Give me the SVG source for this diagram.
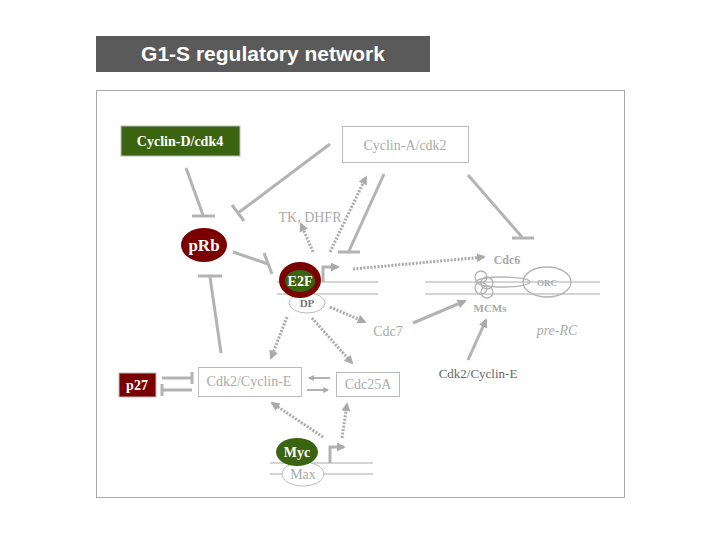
<svg xmlns="http://www.w3.org/2000/svg" width="720" height="540" viewBox="0 0 720 540">
<defs>
<style>
.s{stroke:#b3b3b3;stroke-width:3;fill:none}
.d{stroke:#aaa;stroke-width:3;fill:none;stroke-dasharray:2 1.5}
.t{stroke:#b3b3b3;stroke-width:1.3;fill:none}
.dna{stroke:#aaa;stroke-width:1}
.lbl{font-family:"Liberation Serif",serif;font-size:14px;fill:#aaa;text-anchor:middle}
.w{font-family:"Liberation Serif",serif;font-weight:bold;fill:#fff;text-anchor:middle}
</style>
<marker id="a" viewBox="0 0 10 10" refX="8" refY="5" markerWidth="3" markerHeight="3" orient="auto"><path d="M0,0L10,5L0,10z" fill="#aaa"/></marker>
</defs>
<rect width="720" height="540" fill="#fff"/>
<rect x="96" y="36" width="334" height="36" fill="#5a5a5a"/>
<text x="263" y="61" font-family="Liberation Sans,sans-serif" font-weight="bold" font-size="21" fill="#fff" text-anchor="middle">G1-S regulatory network</text>
<rect x="96.5" y="90.5" width="528" height="407" fill="none" stroke="#aaa" stroke-width="1"/>
<g id="dna">
<line class="dna" x1="277" y1="282" x2="378" y2="282"/><line class="dna" x1="277" y1="294" x2="378" y2="294"/>
<line class="dna" x1="425" y1="282" x2="600" y2="282"/><line class="dna" x1="425" y1="294" x2="600" y2="294"/>
<line class="dna" x1="270" y1="463" x2="373" y2="463"/><line class="dna" x1="270" y1="474" x2="373" y2="474"/>
</g>
<g id="connectors">
<line class="s" x1="330" y1="144" x2="238" y2="213"/><line class="s" x1="232" y1="205" x2="244" y2="221"/>
<line class="s" x1="186" y1="168" x2="203" y2="215"/><line class="s" x1="192" y1="216" x2="215" y2="216"/>
<line class="s" x1="233" y1="252" x2="268" y2="264"/><line class="s" x1="264" y1="253" x2="272" y2="274"/>
<line class="s" x1="221" y1="353" x2="210" y2="277"/><line class="s" x1="198" y1="276" x2="222" y2="276"/>
<line class="d" x1="313" y1="252" x2="301" y2="224" marker-end="url(#a)"/>
<line class="d" x1="330" y1="252" x2="366" y2="177" marker-end="url(#a)"/>
<line class="s" x1="384" y1="174" x2="349" y2="251"/><line class="s" x1="338" y1="252" x2="360" y2="252"/>
<line class="s" x1="468" y1="175" x2="522" y2="237"/><line class="s" x1="512" y1="238" x2="534" y2="238"/>
<path class="s" d="M323 282V267H338" marker-end="url(#a)"/>
<line class="d" x1="353" y1="269" x2="484" y2="257" marker-end="url(#a)"/>
<line class="d" x1="330" y1="307" x2="365" y2="322" marker-end="url(#a)"/>
<line class="s" x1="413" y1="323" x2="465" y2="301" marker-end="url(#a)"/>
<line class="s" x1="468" y1="360" x2="486" y2="320" marker-end="url(#a)"/>
<line class="d" x1="287" y1="317" x2="271" y2="358" marker-end="url(#a)"/>
<line class="d" x1="312" y1="318" x2="352" y2="363" marker-end="url(#a)"/>
<line class="s" x1="162" y1="378" x2="191" y2="378"/><line class="s" x1="192" y1="372" x2="192" y2="384"/>
<line class="s" x1="192" y1="390" x2="163" y2="390"/><line class="s" x1="162" y1="384" x2="162" y2="396"/>
<line class="s" x1="330" y1="378" x2="309" y2="378" marker-end="url(#a)" style="stroke-width:2"/>
<line class="s" x1="307" y1="390" x2="328" y2="390" marker-end="url(#a)" style="stroke-width:2"/>
<path class="s" d="M330 463V447H344" marker-end="url(#a)"/>
<line class="d" x1="323" y1="437" x2="272" y2="403" marker-end="url(#a)"/>
<line class="d" x1="342" y1="438" x2="347" y2="404" marker-end="url(#a)"/>
</g>
<g id="cycD"><rect x="121" y="126" width="119" height="30" fill="#3b6410" stroke="#bbb"/><text class="w" x="180" y="146" font-size="14">Cyclin-D/cdk4</text></g>
<g id="cycA"><rect x="342.5" y="126.5" width="126" height="36" fill="#fff" stroke="#bbb"/><text class="lbl" x="405" y="150">Cyclin-A/cdk2</text></g>
<g id="prb"><ellipse cx="204" cy="245" rx="23" ry="17" fill="#7a0000"/><text class="w" x="204" y="251" font-size="17">pRb</text></g>
<g id="tk"><text class="lbl" x="310" y="222" font-size="12">TK, DHFR</text></g>
<g id="e2f"><ellipse cx="307" cy="303" rx="18" ry="10" fill="#fff" stroke="#bbb"/><text x="307" y="307" font-family="Liberation Serif,serif" font-weight="bold" font-size="11" fill="#777" text-anchor="middle">DP</text>
<ellipse cx="300" cy="280" rx="21" ry="18" fill="#7a0000"/><ellipse cx="300" cy="281" rx="15" ry="11" fill="#3b6410"/><text class="w" x="300" y="286" font-size="14">E2F</text></g>
<g id="cdc6"><text x="507" y="264" font-family="Liberation Serif,serif" font-weight="bold" font-size="12" fill="#aaa" text-anchor="middle">Cdc6</text></g>
<g id="orc"><ellipse cx="547" cy="282" rx="24" ry="15" class="t"/><ellipse cx="503" cy="282" rx="27" ry="5" class="t"/>
<circle cx="481" cy="277" r="6" class="t"/><circle cx="487" cy="283" r="6" class="t"/><circle cx="481" cy="288" r="6" class="t"/><circle cx="487" cy="292" r="6" class="t"/>
<text x="547" y="286" font-family="Liberation Serif,serif" font-weight="bold" font-size="9" fill="#aaa" text-anchor="middle">ORC</text>
<text x="490" y="312" font-family="Liberation Serif,serif" font-weight="bold" font-size="11" fill="#aaa" text-anchor="middle">MCMs</text>
<text x="557" y="335" font-family="Liberation Serif,serif" font-style="italic" font-size="14" fill="#aaa" text-anchor="middle">pre-RC</text></g>
<g id="cdc7"><text class="lbl" x="388" y="336">Cdc7</text></g>
<g id="cdk2r"><text x="478" y="378" font-family="Liberation Serif,serif" font-size="13" fill="#666" text-anchor="middle">Cdk2/Cyclin-E</text></g>
<g id="p27"><rect x="119" y="373" width="37" height="24" fill="#7a0000" stroke="#bbb"/><text class="w" x="137" y="390" font-size="14">p27</text></g>
<g id="cdk2"><rect x="198.5" y="367.5" width="103" height="29" fill="#fff" stroke="#bbb"/><text class="lbl" x="249" y="386">Cdk2/Cyclin-E</text></g>
<g id="cdc25"><rect x="336.5" y="372.5" width="63" height="24" fill="#fff" stroke="#bbb"/><text class="lbl" x="368" y="389">Cdc25A</text></g>
<g id="myc"><ellipse cx="303" cy="474" rx="21" ry="12" fill="#fff" stroke="#bbb"/><text class="lbl" x="303" y="479">Max</text>
<ellipse cx="297" cy="452" rx="21" ry="14" fill="#3b6410"/><text class="w" x="297" y="457" font-size="14">Myc</text></g>
</svg>
